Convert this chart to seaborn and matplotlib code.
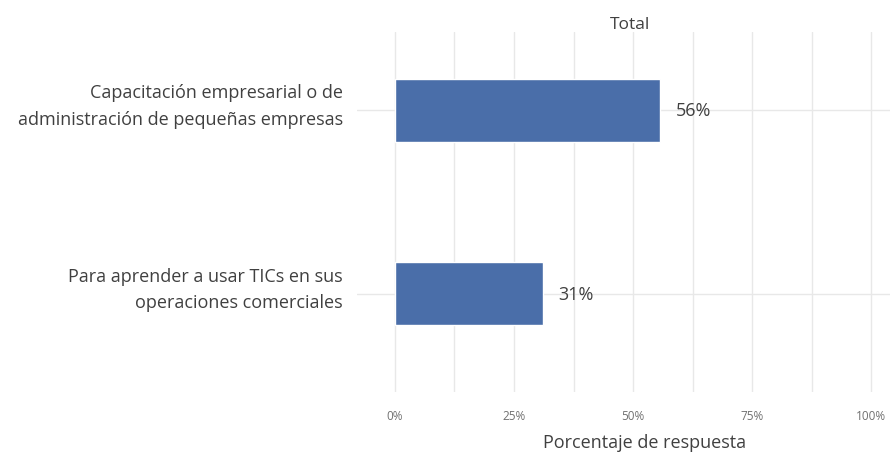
import numpy as np
import pandas as pd
import matplotlib
matplotlib.use("Agg")
import matplotlib.pyplot as plt
import matplotlib.transforms as mtransforms
import seaborn as sns
from matplotlib.ticker import MultipleLocator, FuncFormatter

categorias = ["Capacitación empresarial o de\nadministración de pequeñas empresas",
              "Para aprender a usar TICs en sus\noperaciones comerciales"]
valores = [0.556, 0.31]
etiquetas = ["56%", "31%"]

df = pd.DataFrame({"Categoria": categorias, "Valor": valores})

sns.set_theme(style="white")
plt.rcParams['font.family'] = ['Open Sans', 'DejaVu Sans']

fig = plt.figure(figsize=(8.92, 4.77), dpi=100)
ax = fig.add_axes([0.400, 0.176, 0.598, 0.755])

sns.barplot(data=df, x="Valor", y="Categoria", orient="h", color="#4a6ea9",
            saturation=1, width=0.345, ax=ax)

ax.set_xlim(-0.08, 1.04)
ax.set_ylim(1.538, -0.429)

# grid lines: vertical every 12.5%, horizontal at the categories
ax.xaxis.set_major_locator(MultipleLocator(0.25))
ax.xaxis.set_minor_locator(MultipleLocator(0.125))
ax.xaxis.set_major_formatter(FuncFormatter(lambda v, p: f"{v*100:.0f}%" if v >= 0 else ""))
ax.grid(True, which="both", axis="x", color="#e8e8e8", lw=1)
ax.grid(True, which="major", axis="y", color="#e8e8e8", lw=1)
ax.set_axisbelow(True)
for s in ax.spines.values():
    s.set_visible(False)

ax.tick_params(axis="x", which="both", length=0, pad=12, labelsize=8.5, labelcolor="#707070")
ax.tick_params(axis="y", length=0, pad=10, labelsize=13, labelcolor="#404040")
# labels sit a bit above the bar centre in the original
shift = mtransforms.ScaledTranslation(0, 11 / 100, fig.dpi_scale_trans)
for t in ax.get_yticklabels():
    t.set_horizontalalignment("right")
    t.set_multialignment("right")
    t.set_linespacing(1.6)
    t.set_transform(t.get_transform() + shift)

for i, (v, lab) in enumerate(zip(valores, etiquetas)):
    ax.text(v + 0.033, i, lab, va="center", ha="left", fontsize=13, color="#404040")

ax.set_ylabel("")
ax.set_xlabel("Porcentaje de respuesta", fontsize=13, color="#404040")
ax.xaxis.set_label_coords(0.54, -0.113)
ax.set_title("Total", fontsize=12.5, color="#404040", x=0.512, pad=3)

fig.savefig("out.png", dpi=100)
